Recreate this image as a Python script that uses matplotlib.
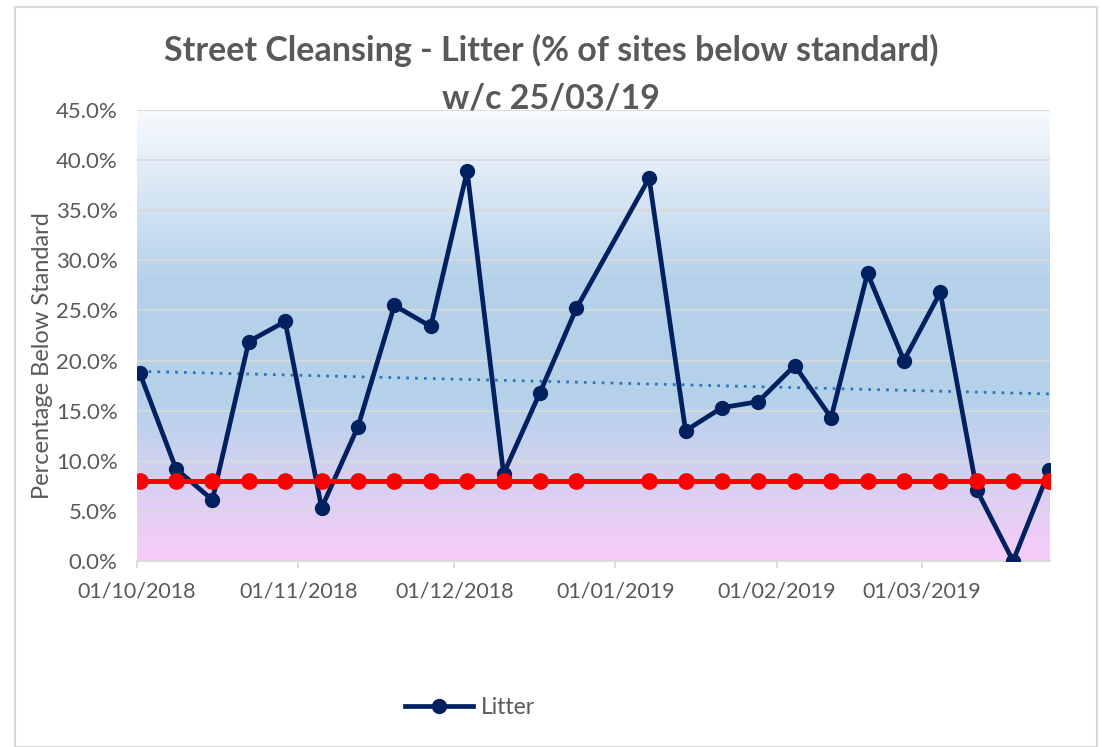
import matplotlib
matplotlib.use("Agg")
import matplotlib.pyplot as plt
import matplotlib.dates as mdates
from matplotlib.colors import LinearSegmentedColormap
from matplotlib.patches import Rectangle
from matplotlib.ticker import FuncFormatter
import numpy as np
import datetime as dt

# week commencing dates (no entry for 31/12/2018)
week_dates = ["01/10/2018", "08/10/2018", "15/10/2018", "22/10/2018", "29/10/2018",
              "05/11/2018", "12/11/2018", "19/11/2018", "26/11/2018", "03/12/2018",
              "10/12/2018", "17/12/2018", "24/12/2018", "07/01/2019", "14/01/2019",
              "21/01/2019", "28/01/2019", "04/02/2019", "11/02/2019", "18/02/2019",
              "25/02/2019", "04/03/2019", "11/03/2019", "18/03/2019", "25/03/2019"]
litter = [18.8, 9.2, 6.1, 21.9, 23.9, 5.3, 13.4, 25.5, 23.4, 38.9, 8.7, 16.8, 25.2,
          38.2, 13.0, 15.3, 15.9, 19.5, 14.3, 28.7, 20.0, 26.8, 7.1, 0.0, 9.1]
target = [8.0] * len(week_dates)
month_ticks = ["01/10/2018", "01/11/2018", "01/12/2018", "01/01/2019", "01/02/2019", "01/03/2019"]

def to_num(s):
    return mdates.date2num(dt.datetime.strptime(s, "%d/%m/%Y"))

x = np.array([to_num(d) for d in week_dates]) + 0.5
y = np.array(litter)

plt.rcParams['font.family'] = ['Lato', 'DejaVu Sans']
grey = '#595959'

fig = plt.figure(figsize=(11.02, 7.47), dpi=100)
ax = fig.add_axes([137/1102, 1 - 561/747, (1050-137)/1102, (561-110)/747])

# background gradient of the plot area
cmap = LinearSegmentedColormap.from_list("bg", [
    (0.0, (0.97, 0.80, 0.98)),
    (0.20, (0.82, 0.82, 0.94)),
    (0.36, (0.71, 0.82, 0.92)),
    (0.62, (0.71, 0.82, 0.92)),
    (1.0, (0.97, 0.98, 0.995))])
grad = np.linspace(0, 1, 256).reshape(-1, 1)
ax.imshow(grad, aspect='auto', cmap=cmap, origin='lower',
          extent=[0, 1, 0, 1], transform=ax.transAxes, zorder=0)

x0 = to_num("01/10/2018")
ax.set_xlim(x0, x0 + 175.6)
ax.set_ylim(0, 45)
ax.set_yticks(np.arange(0, 46, 5))
ax.yaxis.set_major_formatter(FuncFormatter(lambda v, p: f"{v:.1f}%"))
ax.set_xticks([to_num(d) for d in month_ticks])
ax.set_xticklabels(month_ticks)
ax.grid(axis='y', color='#d9d9d9', linewidth=1.3, zorder=1)
ax.set_axisbelow(True)
for s in ['left', 'right', 'top']:
    ax.spines[s].set_visible(False)
ax.spines['bottom'].set_color('#d9d9d9')
ax.spines['bottom'].set_linewidth(1.3)
ax.tick_params(axis='y', length=0, labelsize=16, labelcolor=grey, pad=14)
ax.tick_params(axis='x', length=5, color='#d9d9d9', width=1.3, labelsize=15.5,
               labelcolor=grey, pad=10)

# trendline
coef = np.polyfit(x, y, 1)
xt = np.array([x[0], x[-1]])
ax.plot(xt, np.polyval(coef, xt), linestyle=(0, (1, 2.2)), color='#2e75b6',
        linewidth=2, zorder=2)

ax.plot(x, y, color='#002060', linewidth=3.4, marker='o', markersize=10,
        zorder=3, label='Litter')
ax.plot(x, target, color='#ff0000', linewidth=3.6, marker='o', markersize=11,
        zorder=4)

ax.set_ylabel("Percentage Below Standard", fontsize=17, color=grey)
ax.yaxis.set_label_coords(-0.092, 0.456)

fig.text(0.5, 1 - 50/747, "Street Cleansing - Litter (% of sites below standard)",
         ha='center', va='center', fontsize=24.5, fontweight='bold', color=grey)
fig.text(0.5, 1 - 99/747, "w/c 25/03/19",
         ha='center', va='center', fontsize=24.5, fontweight='bold', color=grey)

leg = fig.legend(handles=[ax.lines[1]], loc='center', bbox_to_anchor=(470/1102, 1 - 708/747),
                 frameon=False, fontsize=16.5, handlelength=3.0, handletextpad=0.35)
for t in leg.get_texts():
    t.set_color(grey)

fig.patches.append(Rectangle((15/1102, 0), (1097-15)/1102, 1 - 7/747,
                             transform=fig.transFigure, fill=False,
                             edgecolor='#d9d9d9', linewidth=1.5))

fig.savefig("out.png", dpi=100)
